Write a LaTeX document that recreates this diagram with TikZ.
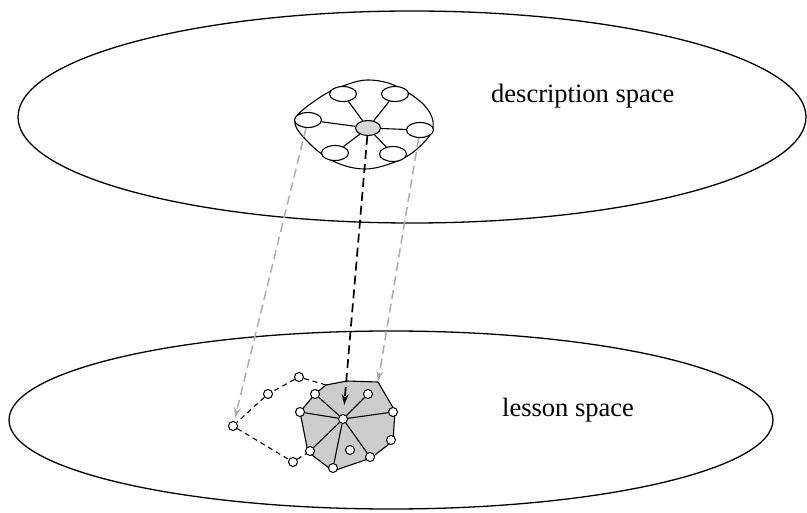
\documentclass[tikz,border=0pt]{standalone}
\usepackage{fontspec}
\setmainfont{Liberation Serif}
\usetikzlibrary{shapes.geometric,arrows.meta}
\begin{document}
\begin{tikzpicture}[x=1pt,y=-1pt,
  spaceline/.style={line width=1.3pt},
  petal/.style={ellipse,draw,fill=white,line width=1.1pt,minimum width=27pt,minimum height=15pt,inner sep=0pt},
  hub/.style={petal,fill=gray!30,minimum width=25pt,minimum height=15pt},
  dot/.style={circle,draw,fill=white,line width=1pt,minimum size=9pt,inner sep=0pt},
  spoke/.style={line width=1.1pt},
  chain/.style={line width=1.1pt,dash pattern=on 5pt off 4pt},
  proj/.style={line width=1.5pt,black!32,dash pattern=on 9pt off 5pt,-{Stealth[length=11pt,width=7pt]}},
  projmain/.style={line width=1.7pt,black,dash pattern=on 9pt off 5pt,-{Stealth[length=11pt,width=7pt]}},
  label/.style={font=\fontsize{26.5}{30}\selectfont,inner sep=0pt,anchor=base west}]
\useasboundingbox (0,0) rectangle (807,513);
% the two spaces
\draw[spaceline] (412,117) ellipse [x radius=394pt, y radius=106pt];
\draw[spaceline] (391,420) ellipse [x radius=382pt, y radius=89pt];
\node[label] (desc) at (491,103) {description space};
\node[label] (lesson) at (502,417) {lesson space};
% flower in description space
\draw[line width=1.1pt] plot[smooth cycle, tension=0.6] coordinates {
  (368,80) (396,86) (425,106) (433,128) (417,149) (395,162) (365,169)
  (335,162) (309,143) (295,120) (319,98) (343,86)};
\node[hub] (hub) at (368,128) {};
\node[petal] (pTL) at (343,94) {};
\node[petal] (pTR) at (395,94) {};
\node[petal] (pL) at (308,120) {};
\node[petal] (pR) at (420,130) {};
\node[petal] (pBL) at (335,153) {};
\node[petal] (pBR) at (393,154) {};
\foreach \p in {pTL,pTR,pL,pR,pBL,pBR} \draw[spoke] (hub) -- (\p);
% lesson structure
\filldraw[fill=gray!40, line width=1.1pt] (300,412) -- (315,394) -- (326,385) -- (347,381)
  -- (378,382) -- (395,411) -- (393,441) -- (371,458) -- (333,471) -- (308,452) -- cycle;
\coordinate (tl) at (326,385);
\coordinate (tr) at (378,382);
\node[dot] (O) at (343,419) {};
\node[dot] (A) at (315,394) {};
\node[dot] (B) at (368,394) {};
\node[dot] (C) at (393,412) {};
\node[dot] (D) at (391,440) {};
\node[dot] (E) at (370,457) {};
\node[dot] (F) at (333,468) {};
\node[dot] (G) at (310,451) {};
\node[dot] (H) at (300,412) {};
\node[dot] (I) at (350,450) {};
\foreach \p in {A,B,C,E,F,G,H} \draw[spoke] (O) -- (\p);
% dashed chain
\node[dot] (c1) at (299,377) {};
\node[dot] (c2) at (268,394) {};
\node[dot] (c3) at (233,426) {};
\node[dot] (c4) at (293,462) {};
\draw[chain] (tl) -- (c1) -- (c2) -- (c3) -- (c4) -- (G);
% projections
\draw[proj, shorten >=3pt] (pL) -- (c3);
\draw[proj] (pR) -- (tr);
\draw[projmain, shorten >=9pt] (hub) -- (O);
\end{tikzpicture}
\end{document}
